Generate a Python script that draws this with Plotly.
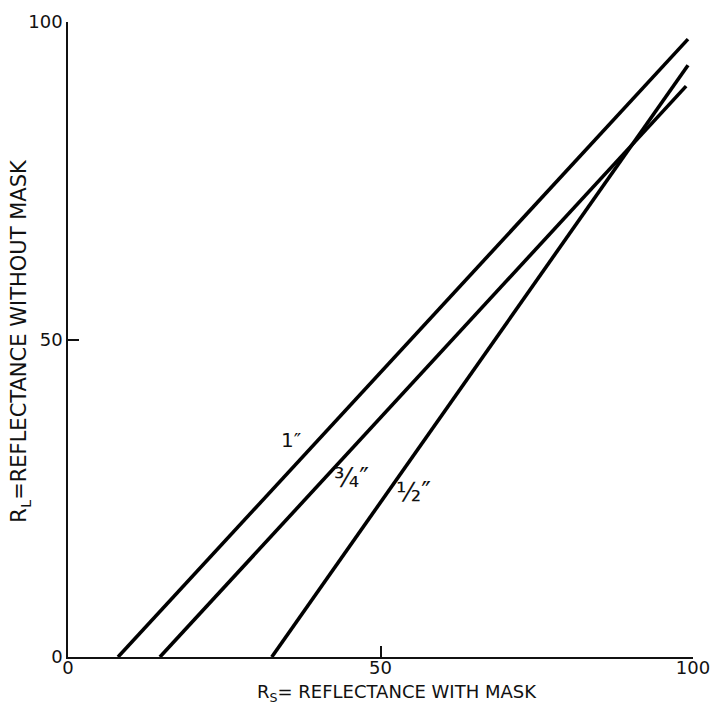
import plotly.graph_objects as go

# Data
x_1in = [8.0, 99.2]
y_1in = [0.0, 97.3]
x_3q = [14.7, 98.9]
y_3q = [0.0, 89.9]
x_half = [32.6, 99.2]
y_half = [0.0, 93.2]

tick_vals = [0, 50, 100]
tick_text = ["0", "50", "100"]

labels = ["1″", "¾″", "½″"]
label_x = [35.7, 45.4, 55.2]
label_y = [34.2, 28.2, 26.0]
label_size = [20, 26, 26]

x_title = "R<sub>S</sub>= REFLECTANCE WITH MASK"
y_title = "R<sub>L</sub>=REFLECTANCE WITHOUT MASK"

FONT = "DejaVu Sans"

fig = go.Figure()
for xs, ys in [(x_1in, y_1in), (x_3q, y_3q), (x_half, y_half)]:
    fig.add_trace(go.Scatter(x=xs, y=ys, mode="lines",
                             line=dict(color="black", width=3.6),
                             showlegend=False, hoverinfo="skip", cliponaxis=False))

for t, xv, yv, sz in zip(labels, label_x, label_y, label_size):
    fig.add_annotation(x=xv, y=yv, text=t, showarrow=False,
                       font=dict(family=FONT, size=sz, color="#111"))

fig.add_annotation(xref="paper", yref="paper", x=0.526, y=-0.057,
                   text=x_title, showarrow=False, xanchor="center", yanchor="middle",
                   font=dict(family=FONT, size=18, color="#111"))
fig.add_annotation(xref="paper", yref="paper", x=-0.077, y=0.498,
                   text=y_title, showarrow=False, textangle=-90,
                   xanchor="center", yanchor="middle",
                   font=dict(family=FONT, size=21, color="#111"))

fig.update_layout(
    width=716, height=706,
    margin=dict(l=68, r=23, t=22, b=49),
    paper_bgcolor="white", plot_bgcolor="white",
    font=dict(family=FONT, size=18, color="#111"),
    showlegend=False,
)
axis_common = dict(range=[0, 100], tickvals=tick_vals, ticktext=tick_text,
                   showline=True, linecolor="#111", linewidth=1.6,
                   ticks="inside", ticklen=11, tickwidth=1.6, tickcolor="#111",
                   showgrid=False, zeroline=False, automargin=False,
                   tickfont=dict(size=18))
fig.update_xaxes(**axis_common, ticklabelstandoff=-6)
fig.update_yaxes(**axis_common)

fig.write_html("out.html")
